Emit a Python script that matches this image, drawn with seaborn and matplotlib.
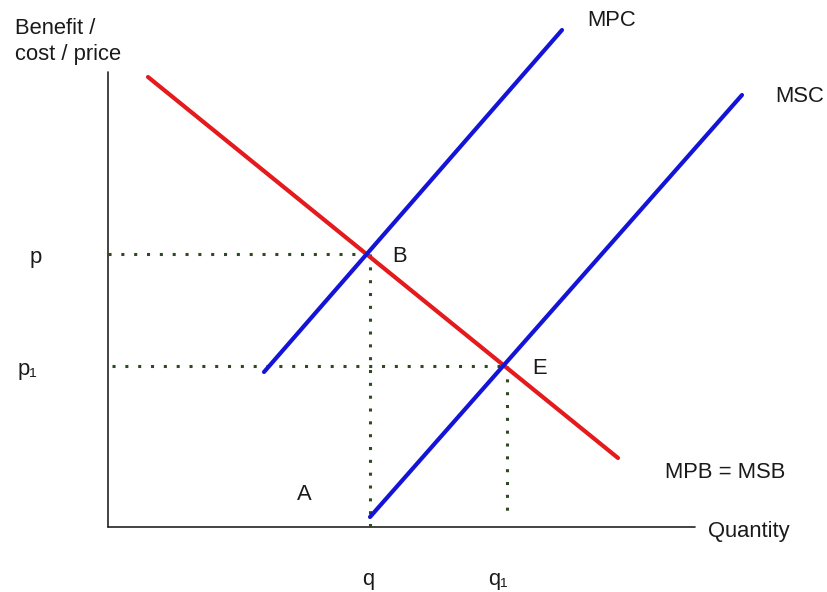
import matplotlib
matplotlib.use("Agg")
import matplotlib.pyplot as plt
import seaborn as sns
import pandas as pd

# ---- data (economic units: quantity, price) ----
msb_q = [40, 510]
msb_p = [450, 69]
mpc_q = [156, 454]
mpc_p = [155, 497]
msc_q = [262, 634]
msc_p = [10, 432]
p_level = 273
p1_level = 161
q_level = 262
q1_level = 399
axis_q_max = 587
axis_p_max = 455

sns.set_style("white")
plt.rcParams["font.family"] = ["Liberation Sans", "DejaVu Sans"]

fig = plt.figure(figsize=(8.27, 5.92), dpi=100)
ax = fig.add_axes([0, 0, 1, 1])

X0, Y0 = 108, 527  # pixel position of the origin
ax.set_xlim(-X0, 827 - X0)
ax.set_ylim(Y0 - 592, Y0)

def px(x, y):
    return x - X0, Y0 - y

common = dict(ax=ax, sort=False, estimator=None, errorbar=None)

# axes
sns.lineplot(x=[0, 0], y=[axis_p_max, 0], color="#222222", lw=1.2, **common)
sns.lineplot(x=[0, axis_q_max], y=[0, 0], color="#222222", lw=1.2, **common)

# dotted guides
dot_style = dict(color="#2f4a22", lw=2.2, linestyle=(0, (1, 3.2)), **common)
sns.lineplot(x=[0, q_level - 2], y=[p_level, p_level], **dot_style)
sns.lineplot(x=[4, q1_level - 4], y=[p1_level, p1_level], **dot_style)
sns.lineplot(x=[q_level, q_level], y=[p_level, 0], **dot_style)
sns.lineplot(x=[q1_level, q1_level], y=[p1_level, 7], **dot_style)

# curves
red = "#e41a1c"
blue = "#1414d8"
sns.lineplot(x=msb_q, y=msb_p, color=red, lw=3.0, **common)
sns.lineplot(x=mpc_q, y=mpc_p, color=blue, lw=3.0, **common)
sns.lineplot(x=msc_q, y=msc_p, color=blue, lw=3.0, **common)

ax.set_axis_off()

fs = 15.8
tc = "#1a1a1a"
def label(x, y, s, **kw):
    ax.text(*px(x, y), s, fontsize=fs, color=tc, ha="left", va="center", **kw)

ax.text(*px(15, 18), "Benefit /\ncost / price", fontsize=fs, color=tc,
        ha="left", va="top", linespacing=1.3)
label(587, 21, "MPC")
label(775, 96, "MSC")
label(30, 257, "p")
label(18, 370, "p\u2081")
label(392, 256, "B")
label(532, 368, "E")
label(297, 495, "A")
label(362, 580, "q")
label(488, 580, "q\u2081")
label(665, 473, "MPB = MSB")
label(708, 532, "Quantity")

fig.savefig("out.png", dpi=100)
